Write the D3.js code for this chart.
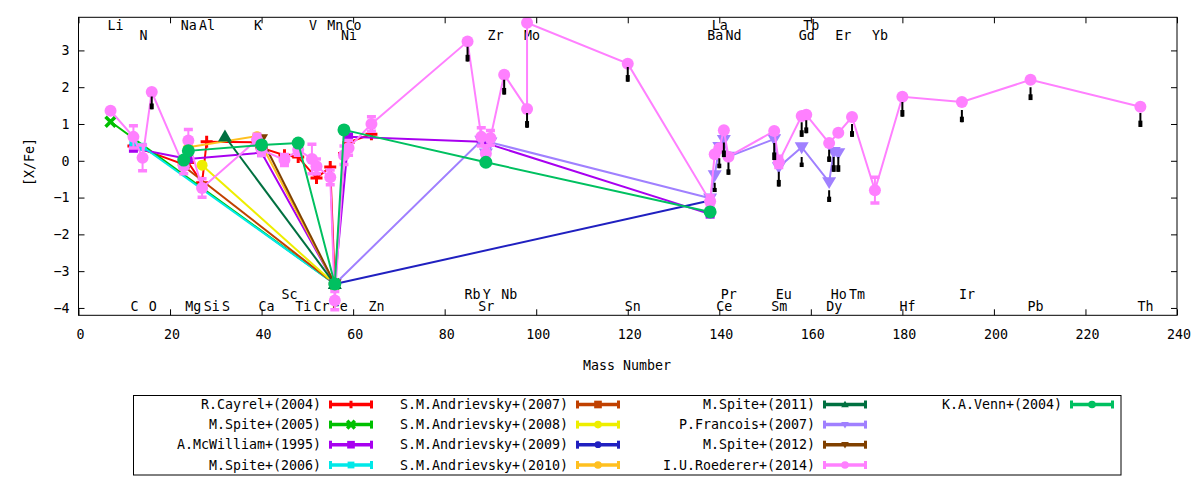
<!DOCTYPE html>
<html><head><meta charset="utf-8">
<script src="https://cdn.jsdelivr.net/npm/d3@7"></script>
<style>
body{margin:0;background:#fff}
svg text{font-family:"DejaVu Sans Mono",monospace;font-size:13.3px;fill:#000}
</style>
</head><body><svg id="c" width="1200" height="480"></svg>
<script>
// ---------------- DATA ----------------
const elements = ["Li","C","N","O","Na","Mg","Al","Si","S","K","Ca","Sc","Ti","V","Cr","Mn","Fe","Co","Ni","Zn","Rb","Sr","Y","Zr","Nb","Mo","Sn","Ba","La","Ce","Pr","Nd","Sm","Eu","Gd","Tb","Dy","Ho","Er","Tm","Yb","Hf","Ir","Pb","Th"];
const massNumbers = [7,12,14,16,23,24,27,28,32,39,40,45,48,51,52,55,56,59,58,64,85,88,89,90,93,98,120,138,139,140,141,142,152,153,158,159,164,165,166,169,174,180,193,208,232];

const topRow1 = ["Li","Na","Al","K","V","Mn","Co","La","Tb"];
const topRow2 = ["N","Ni","Zr","Mo","Ba","Nd","Gd","Er","Yb"];
const bottomRow1 = ["Sc","Rb","Y","Nb","Pr","Eu","Ho","Tm","Ir"];
const bottomRow2 = ["C","O","Mg","Si","S","Ca","Ti","Cr","Fe","Zn","Sr","Sn","Ce","Sm","Dy","Hf","Pb","Th"];

const xTicks = [0,20,40,60,80,100,120,140,160,180,200,220,240];
const yTicks = [-4,-3,-2,-1,0,1,2,3];

// [element, [X/Fe], error]
const cayrel2004 = [["C",0.40],["Na",-0.10],["Mg",-0.05],["Al",-0.60],["Si",0.52],["K",0.50],["Ca",0.35],["Sc",0.15],["Ti",0.10],["Cr",-0.47],["Mn",-0.17],["Fe",-3.35],["Ni",0.20],["Co",0.50],["Zn",0.72]];
const spite2005 = [["Li",1.06],["Fe",-3.35]];
const mcwilliam1995 = [["C",0.34],["Mg",0.05],["Ca",0.22],["Fe",-3.35],["Co",0.65],["Sr",0.52],["Ba",-1.45]];
const spite2006 = [["C",0.50],["N",0.38],["Fe",-3.35]];
const andrievsky2007 = [["Na",-0.15],["Fe",-3.35]];
const andrievsky2008 = [["Al",-0.12],["Fe",-3.35]];
const andrievsky2009 = [["Fe",-3.35],["Ba",-1.08]];
const andrievsky2010 = [["Mg",0.37],["K",0.67],["Fe",-3.35]];
const spite2011 = [["S",0.66],["Fe",-3.35]];
const francois2007 = [["Fe",-3.35],["Sr",0.55],["Y",0.20],["Zr",0.50],["Ba",-1.02],["La",-0.39],["Ce",0.38],["Pr",0.57],["Nd",0.11],["Sm",0.59],["Eu",-0.17],["Gd",0.37],["Dy",-0.58],["Ho",0.24],["Er",0.21]];
const spite2012 = [["Ca",0.60],["Fe",-3.35]];
const roederer2014 = [["Li",1.36,0],["C",0.65,0.3],["N",0.08,0.35],["O",1.87,0],["Na",-0.15,0.2],["Mg",0.55,0.3],["Al",-0.74,0.25],["K",0.57,0.15],["Ca",0.30,0.15],["Sc",0.02,0.15],["Ti",0.30,0.15],["V",0.05,0.4],["Cr",-0.15,0.2],["Mn",-0.45,0.2],["Fe",-3.80,0.25],["Ni",0.15,0.25],["Co",0.35,0.2],["Zn",1.00,0.2],["Rb",3.24,0],["Sr",0.65,0.25],["Y",0.20,0.2],["Zr",0.62,0.2],["Nb",2.34,0],["Mo",1.41,0],["Mo",3.75,0],["Sn",2.64,0],["Ba",-1.10,0.15],["La",0.18,0],["Ce",0.34,0],["Pr",0.83,0],["Nd",0.11,0],["Sm",0.81,0],["Eu",-0.03,0.15],["Gd",1.22,0],["Tb",1.25,0],["Dy",0.48,0],["Er",0.76,0],["Tm",1.19,0],["Yb",-0.80,0.35],["Hf",1.74,0],["Ir",1.60,0],["Pb",2.20,0],["Th",1.47,0]];
const venn2004 = [["Na",0.02],["Mg",0.27],["Ca",0.43],["Ti",0.48],["Fe",-3.35],["Ni",0.84],["Y",-0.04],["Ba",-1.39]];

// black upper-limit marks: [mass, top, bottom]
const limitMarks = [[16,1.75,1.4],[85,3.1,2.7],[93,2.2,1.8],[98,1.3,0.9],[120,2.55,2.15],[139,-0.6,-0.85],[140,0.07,-0.2],[141,0.5,0.1],[142,-0.05,-0.38],[152,0.48,0.02],[153,-0.3,-0.7],[158,1.05,0.65],[158,0.1,-0.17],[159,1.1,0.75],[164,-0.8,-1.12],[164,0.3,-0.03],[165,0.1,-0.3],[166,0.1,-0.3],[169,1.0,0.65],[180,1.6,1.2],[193,1.38,1.05],[208,2.0,1.65],[232,1.3,0.92]];

const seriesNames = ["R.Cayrel+(2004)","M.Spite+(2005)","A.McWilliam+(1995)","M.Spite+(2006)","S.M.Andrievsky+(2007)","S.M.Andrievsky+(2008)","S.M.Andrievsky+(2009)","S.M.Andrievsky+(2010)","M.Spite+(2011)","P.Francois+(2007)","M.Spite+(2012)","I.U.Roederer+(2014)","K.A.Venn+(2004)"];
const seriesData = [cayrel2004,spite2005,mcwilliam1995,spite2006,andrievsky2007,andrievsky2008,andrievsky2009,andrievsky2010,spite2011,francois2007,spite2012,roederer2014,venn2004];

// ---------------- STYLE ----------------
const seriesColors = ["#ff0000","#00c000","#a800f0","#00e8e8","#c04000","#eeee00","#2020c0","#ffc020","#007040","#a080ff","#804000","#ff80ff","#00c060"];
const seriesMarkers = ["plus","cross","square","square","square","circle","circle","circle","tri","tridown","tridown","circle","circle"];
const markerSizes = [6,5,4.5,4,4.5,5.5,4,5,7,7,6.5,6,6.5];

const massOf = {};
elements.forEach((e,i)=>massOf[e]=massNumbers[i]);

const X0=78.5, X1=1177, Y0=17.3, Y1=315.3;
const x = d3.scaleLinear().domain([0,240]).range([X0,X1]);
const y = d3.scaleLinear().domain([-4.2,3.9]).range([Y1,Y0]);

const svg = d3.select("#c");

// axes (inward ticks, mirrored)
function clean(g){ g.select(".domain").remove(); g.attr("font-family",null).attr("font-size",null); }
svg.append("g").attr("transform",`translate(0,${Y1})`)
  .call(d3.axisBottom(x).tickValues(xTicks).tickSize(-6).tickPadding(14).tickFormat(d3.format("d"))).call(clean)
  .selectAll("text").attr("dx",1.5);
svg.append("g").attr("transform",`translate(0,${Y0})`)
  .call(d3.axisTop(x).tickValues(xTicks).tickSize(-6).tickFormat("")).call(clean);
svg.append("g").attr("transform",`translate(${X0},0)`)
  .call(d3.axisLeft(y).tickValues(yTicks).tickSize(-6).tickPadding(9).tickFormat(d3.format("d"))).call(clean);
svg.append("g").attr("transform",`translate(${X1},0)`)
  .call(d3.axisRight(y).tickValues(yTicks).tickSize(-6).tickFormat("")).call(clean);
svg.selectAll(".tick line").attr("stroke","#000").attr("stroke-width",1);

// axis titles
svg.append("text").attr("x",627).attr("y",370).attr("text-anchor","middle").text("Mass Number");
svg.append("text").attr("transform","translate(34,162) rotate(-90)").attr("text-anchor","middle").text("[X/Fe]");

// element labels (left-justified, like gnuplot)
function rowLabels(list, baseline){
  svg.append("g").selectAll("text").data(list).join("text")
    .attr("x",d=>x(massOf[d])-3).attr("y",baseline).text(d=>d);
}
rowLabels(topRow1,30);
rowLabels(topRow2,39.5);
rowLabels(bottomRow1,299);
rowLabels(bottomRow2,311);

// plot area clip
svg.append("clipPath").attr("id","clip").append("rect")
  .attr("x",X0).attr("y",Y0).attr("width",X1-X0).attr("height",Y1-Y0);
const plot = svg.append("g").attr("clip-path","url(#clip)");

function marker(g,type,cx,cy,s,color){
  switch(type){
    case "plus":
      g.append("path").attr("d",`M${cx-s},${cy}H${cx+s}M${cx},${cy-s}V${cy+s}`).attr("stroke",color).attr("stroke-width",3).attr("fill","none"); break;
    case "cross":
      g.append("path").attr("d",`M${cx-s},${cy-s}L${cx+s},${cy+s}M${cx-s},${cy+s}L${cx+s},${cy-s}`).attr("stroke",color).attr("stroke-width",3.5).attr("fill","none"); break;
    case "square":
      g.append("rect").attr("x",cx-s).attr("y",cy-s).attr("width",2*s).attr("height",2*s).attr("fill",color); break;
    case "circle":
      g.append("circle").attr("cx",cx).attr("cy",cy).attr("r",s).attr("fill",color); break;
    case "tri":
      g.append("path").attr("d",`M${cx},${cy-s}L${cx+s},${cy+s*0.7}L${cx-s},${cy+s*0.7}Z`).attr("fill",color); break;
    case "tridown":
      g.append("path").attr("d",`M${cx},${cy+s}L${cx+s},${cy-s*0.7}L${cx-s},${cy-s*0.7}Z`).attr("fill",color); break;
  }
}

const line = d3.line().x(d=>x(massOf[d[0]])).y(d=>y(d[1]));

seriesData.forEach((data,i)=>{
  const col = seriesColors[i];
  const g = plot.append("g");
  g.append("path").attr("d",line(data)).attr("fill","none").attr("stroke",col).attr("stroke-width",2);
  data.filter(d=>d[2]).forEach(d=>{
    const cx = x(massOf[d[0]]), t = y(d[1]+d[2]), b = y(d[1]-d[2]);
    g.append("line").attr("x1",cx).attr("x2",cx).attr("y1",t).attr("y2",b).attr("stroke",col).attr("stroke-width",2);
    [t,b].forEach(yy=>g.append("line").attr("x1",cx-4.5).attr("x2",cx+4.5).attr("y1",yy).attr("y2",yy).attr("stroke",col).attr("stroke-width",3.5));
  });
  data.forEach(d=>marker(g,seriesMarkers[i],x(massOf[d[0]]),y(d[1]),markerSizes[i],col));
});

// black marks
const lm = plot.append("g");
limitMarks.forEach(d=>{
  const cx = x(d[0]), t = y(d[1]), b = y(d[2]);
  lm.append("line").attr("x1",cx).attr("x2",cx).attr("y1",t).attr("y2",b).attr("stroke","#000").attr("stroke-width",2);
  lm.append("rect").attr("x",cx-2).attr("y",b-(b-t)*0.45).attr("width",4).attr("height",(b-t)*0.45).attr("fill","#000");
});

// border
svg.append("rect").attr("x",X0).attr("y",Y0).attr("width",X1-X0).attr("height",Y1-Y0)
  .attr("fill","none").attr("stroke","#000").attr("stroke-width",1);

// legend
const legX = [329,576,823,1070];
const legY = [404.5,424.6,444.7,465];
svg.append("rect").attr("x",133.5).attr("y",395.5).attr("width",987.5).attr("height",79.5)
  .attr("fill","none").attr("stroke","#000").attr("stroke-width",1);
seriesNames.forEach((name,i)=>{
  const c = Math.floor(i/4), r = i%4;
  const sx = legX[c], sy = legY[r], col = seriesColors[i];
  svg.append("text").attr("x",sx-8).attr("y",sy).attr("dy","0.36em").attr("text-anchor","end").text(name);
  const g = svg.append("g");
  g.append("line").attr("x1",sx).attr("x2",sx+44).attr("y1",sy).attr("y2",sy).attr("stroke",col).attr("stroke-width",3.5);
  [sx+1.5,sx+42.5].forEach(xx=>g.append("line").attr("x1",xx).attr("x2",xx).attr("y1",sy-4).attr("y2",sy+4).attr("stroke",col).attr("stroke-width",3));
  marker(g,seriesMarkers[i],sx+22,sy,Math.min(markerSizes[i],4.5)*0.85,col);
});
</script>
</body></html>
